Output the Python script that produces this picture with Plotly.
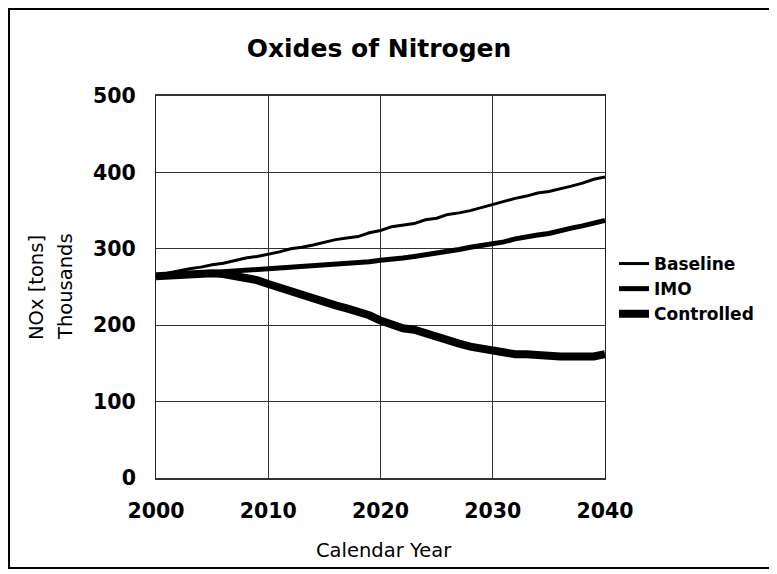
import plotly.graph_objects as go

years = list(range(2000, 2041))
baseline = [266, 268, 271, 274, 276, 279, 281, 285, 288, 290,
            293, 296, 300, 302, 305, 309, 312, 314, 316, 321,
            324, 329, 331, 333, 338, 340, 345, 347, 350, 354,
            357, 362, 366, 369, 373, 375, 379, 382, 386, 391, 394]
imo = [264, 265, 266, 267, 268, 269, 269, 271, 272, 273,
       274, 275, 276, 277, 278, 278, 279, 280, 281, 283,
       285, 286, 288, 290, 292, 294, 297, 299, 302, 304,
       306, 309, 313, 316, 318, 320, 324, 327, 330, 334, 337]
controlled = [264, 265, 266, 267, 268, 268, 267, 265, 262, 259,
              254, 249, 244, 240, 235, 231, 226, 222, 218, 213,
              206, 201, 196, 194, 189, 184, 179, 176, 172, 169,
              166, 164, 162, 162, 162, 160, 159, 159, 159, 159, 162]
x_ticks = [2000, 2010, 2020, 2030, 2040]
y_ticks = [0, 100, 200, 300, 400, 500]

FONT = "DejaVu Sans, Verdana, sans-serif"

fig = go.Figure()
fig.add_trace(go.Scatter(x=years, y=baseline, mode="lines", name="Baseline",
                         legendgroup="a", line=dict(color="black", width=3)))
fig.add_trace(go.Scatter(x=years, y=imo, mode="lines", name="IMO",
                         legendgroup="b", line=dict(color="black", width=5)))
fig.add_trace(go.Scatter(x=years, y=controlled, mode="lines", name="Controlled",
                         legendgroup="c", line=dict(color="black", width=8)))

# page has an 8px body margin; figure is sized to fit the window
OFF = 8
W, H = 777 - OFF, 574 - OFF
L, R, T, B = 156, 605, 96, 478          # plot area in page pixels
pw, ph = R - L, B - T


def px(x):
    return (x - L) / pw


def py(y):
    return (B - y) / ph


fig.update_layout(
    width=W, height=H,
    margin=dict(l=L - OFF, r=W - (R - OFF), t=T - OFF, b=H - (B - OFF),
                autoexpand=False),
    paper_bgcolor="white", plot_bgcolor="white",
    font=dict(family=FONT, color="black"),
    title=dict(text="<b>Oxides of Nitrogen</b>", x=px(379), xref="paper",
               xanchor="center", y=1 - (48 - OFF) / H, yanchor="middle",
               font=dict(size=25, family=FONT, color="black")),
    showlegend=True,
    legend=dict(x=px(614), xanchor="left", y=py(246), yanchor="top",
                font=dict(size=17, family=FONT, color="black", weight="bold"),
                bgcolor="rgba(0,0,0,0)", itemwidth=30, tracegroupgap=0),
    xaxis=dict(range=[2000, 2040], tickvals=x_ticks,
               ticktext=[f"<b>{v}</b>" for v in x_ticks],
               showgrid=True, gridcolor="#333333", gridwidth=1,
               showline=True, linecolor="#333333", linewidth=2, mirror=True,
               ticks="outside", ticklen=13, tickcolor="rgba(0,0,0,0)",
               tickfont=dict(size=20.5, family=FONT, color="black"),
               zeroline=False),
    yaxis=dict(range=[0, 500], tickvals=y_ticks,
               ticktext=[f"<b>{v}</b>" for v in y_ticks],
               showgrid=True, gridcolor="#333333", gridwidth=1,
               showline=True, linecolor="#222222", linewidth=1, mirror=True,
               ticks="outside", ticklen=15, tickcolor="rgba(0,0,0,0)",
               tickfont=dict(size=20.5, family=FONT, color="black"),
               zeroline=False),
    annotations=[
        dict(text="Calendar Year", xref="paper", yref="paper",
             x=px(384), y=py(550), xanchor="center", yanchor="middle",
             showarrow=False, font=dict(size=19.5, family=FONT, color="black")),
        dict(text="NOx [tons]", xref="paper", yref="paper", textangle=-90,
             x=px(36), y=py(287), xanchor="center", yanchor="middle",
             showarrow=False, font=dict(size=19.5, family=FONT, color="black")),
        dict(text="Thousands", xref="paper", yref="paper", textangle=-90,
             x=px(65), y=py(287), xanchor="center", yanchor="middle",
             showarrow=False, font=dict(size=19.5, family=FONT, color="black")),
    ],
    shapes=[dict(type="rect", xref="paper", yref="paper",
                 x0=px(9), x1=px(772), y0=py(568), y1=py(9),
                 line=dict(color="black", width=2), layer="below")],
)

fig.write_html("out.html")
